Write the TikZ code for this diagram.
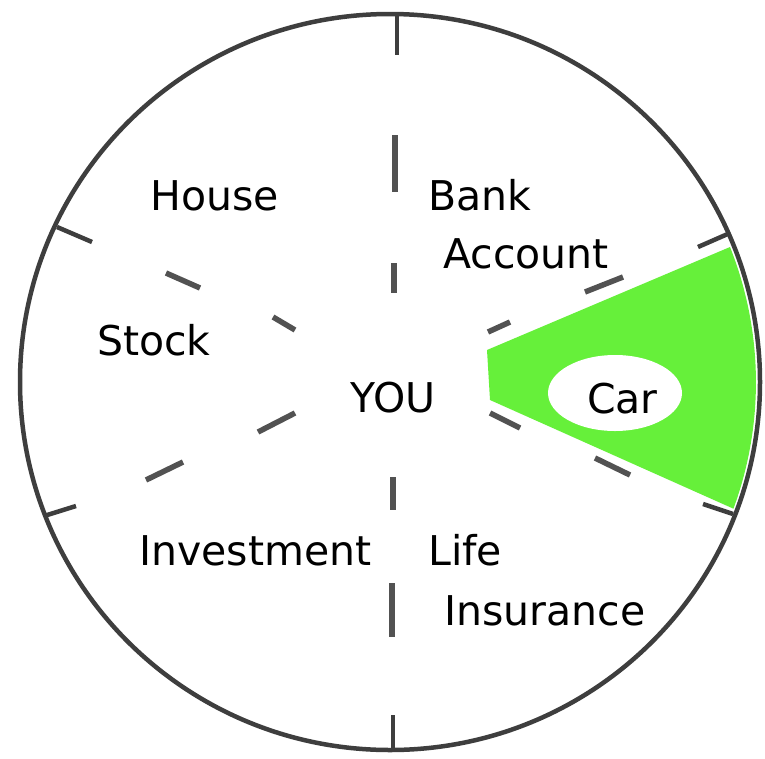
\documentclass[tikz,border=0pt]{standalone}
\usepackage{fontspec}
\setmainfont{DejaVu Sans}
\definecolor{ringgray}{RGB}{62,62,62}
\definecolor{dashgray}{RGB}{82,82,82}
\definecolor{cargreen}{RGB}{102,240,58}
\begin{document}
\begin{tikzpicture}[x=1pt,y=-1pt,
  ring/.style={draw=ringgray,line width=4.5pt},
  dashseg/.style={draw=dashgray,line width=5.5pt},
  tickseg/.style={draw=ringgray,line width=4.5pt},
  lbl/.style={anchor=base west,inner sep=0pt,text=black,font=\fontsize{41}{41}\selectfont}]
\useasboundingbox (0,0) rectangle (765,758);
\fill[white] (0,0) rectangle (765,758);
% green sector
\fill[cargreen] (487,350) -- (730,247) arc[start angle=-21.7,end angle=20.2,radius=366] -- (490,400) -- cycle;
\fill[white] (615,393) ellipse [x radius=67, y radius=38];
% outer circle
\draw[ring] (390,382) ellipse [x radius=370, y radius=368];
% ticks at the rim
\draw[tickseg] (397,14) -- (397,55);
\draw[tickseg] (393,715) -- (393,750);
\draw[tickseg] (57,227) -- (92,242);
\draw[tickseg] (44,516) -- (76,506);
\draw[tickseg] (730,233) -- (698,247);
\draw[tickseg] (703,504) -- (733,514);
% dashed rays
\draw[dashseg] (395,135) -- (395,192);
\draw[dashseg] (394,263) -- (394,293);
\draw[dashseg] (393,477) -- (393,510);
\draw[dashseg] (392,583) -- (392,637);
\draw[dashseg] (166,273) -- (200,288);
\draw[dashseg] (273,317) -- (295,330);
\draw[dashseg] (295,413) -- (258,432);
\draw[dashseg] (183,462) -- (146,480);
\draw[dashseg] (623,277) -- (585,292);
\draw[dashseg] (510,322) -- (488,332);
\draw[dashseg] (490,413) -- (520,428);
\draw[dashseg] (595,458) -- (630,475);
% labels
\node[lbl] (house) at (150,210) {House};
\node[lbl] (bank) at (428,210) {Bank};
\node[lbl] (account) at (443,268) {Account};
\node[lbl] (stock) at (97,355) {Stock};
\node[lbl] (you) at (350,412) {YOU};
\node[lbl] (car) at (587,413) {Car};
\node[lbl] (investment) at (139,565) {Investment};
\node[lbl] (life) at (428,565) {Life};
\node[lbl] (insurance) at (444,625) {Insurance};
\end{tikzpicture}
\end{document}
